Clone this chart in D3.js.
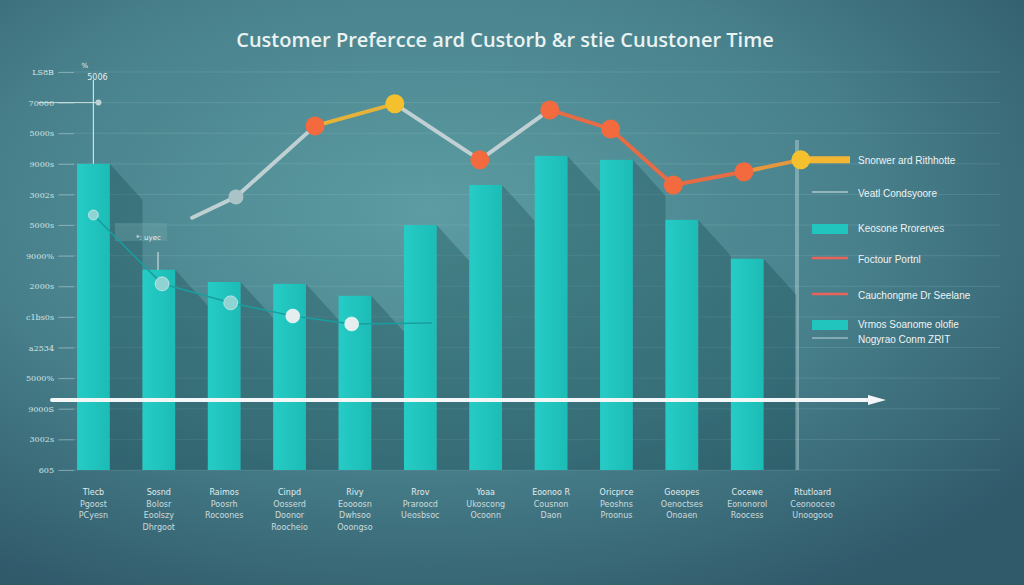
<!DOCTYPE html>
<html><head><meta charset="utf-8">
<script src="https://cdn.jsdelivr.net/npm/d3@7"></script>
<style>html,body{margin:0;padding:0;background:#3a6472;}svg{display:block;}</style>
</head><body>
<svg id="c" width="1024" height="585"></svg>
<script>
// ---- data ----
const categories = ["c1","c2","c3","c4","c5","c6","c7","c8","c9","c10","c11","c12"];
const categoryLabels = [
  ["Tlecb","Pgoost","PCyesn"],
  ["Sosnd","Bolosr","Eoolszy","Dhrgoot"],
  ["Raimos","Poosrh","Rocoones"],
  ["Cinpd","Oosserd","Doonor","Roocheio"],
  ["Rivy","Eoooosn","Dwhsoo","Ooongso"],
  ["Rrov","Praroocd","Ueosbsoc"],
  ["Yoaa","Ukoscong","Ocoonn"],
  ["Eoonoo R","Cousnon","Daon"],
  ["Oricprce","Peoshns","Proonus"],
  ["Goeopes","Oenoctses","Onoaen"],
  ["Cocewe","Eononorol","Roocess"],
  ["Rtutloard","Ceonooceo","Unoogooo"]
];
const barValues = [10.0, 6.54, 6.14, 6.08, 5.69, 8.0, 9.31, 10.26, 10.13, 8.17, 6.9, null];
// orange preference line: position (category index, fractional) and value
const prefPos    = [1.51, 2.18, 3.39, 4.61, 5.91, 6.98, 7.91, 8.87, 9.95, 10.82];
const prefValues = [8.24, 8.92, 11.24, 11.96, 10.13, 11.76, 11.14, 9.31, 9.74, 10.13];
// thin teal line
const timePos    = [0, 1.05, 2.1, 3.05, 3.95, 5.18];
const timeValues = [8.33, 6.08, 5.46, 5.03, 4.77, 4.8];
const yTickValues = [0,1,2,3,4,5,6,7,8,9,10,11,12,13];
const yTickLabels = ["605","3002s","9000S","5000%","a2534","c1bs0s","2000s","9000%","5000s","3002s","9000s","5000s","70000","LS8B"];
const legendLabels = ["Snorwer ard Rithhotte","Veatl Condsyoore","Keosone Rrorerves","Foctour Portnl","Cauchongme Dr Seelane","Vrmos Soanome olofie","Nogyrao Conm ZRIT"];
const titleText = "Customer Prefercce  ard Custorb &r stie Cuustoner Time";

// ---- styles ----
const prefSegColors = ["#c9d6d8","#c9d6d8","#f2b632","#c9d6d8","#c9d6d8","#f26a3e","#f26a3e","#f26a3e","#f29a38"];
const prefMarkerColors = [null,"#a9c3c6","#f26a3e","#f5c02e","#f26a3e","#f26a3e","#f26a3e","#f26a3e","#f26a3e","#f5c02e"];
const legendKinds = [
  {k:"yline",c:"#f2b632"},{k:"thin",c:"#dfe9ea"},{k:"rect",c:"#22c4be"},
  {k:"line",c:"#e8645a"},{k:"line",c:"#e8645a"},{k:"rect",c:"#22c4be"},{k:"thin",c:"#bfd7da"}
];

const svg = d3.select("#c");
const W = 1024, H = 585;
const defs = svg.append("defs");
const bg = defs.append("radialGradient").attr("id","bg").attr("cx","0.42").attr("cy","0.36").attr("r","0.75");
bg.append("stop").attr("offset","0").attr("stop-color","#5c9ca2");
bg.append("stop").attr("offset","0.55").attr("stop-color","#48818c");
bg.append("stop").attr("offset","1").attr("stop-color","#30596a");
svg.append("rect").attr("width",W).attr("height",H).attr("fill","url(#bg)");

const barGrad = defs.append("linearGradient").attr("id","bar").attr("x1",0).attr("x2",1);
barGrad.append("stop").attr("offset",0).attr("stop-color","#25ccc5");
barGrad.append("stop").attr("offset",1).attr("stop-color","#1dbcb6");

const y = d3.scaleLinear().domain([0,13]).range([470,72]);
const x = d3.scaleBand().domain(categories).range([64, 842]).paddingInner(0.5).paddingOuter(0.2);
const xl = d3.scaleLinear().domain([0,11]).range([x(categories[0])+x.bandwidth()/2, x(categories[11])+x.bandwidth()/2]);

// gridlines
const grid = svg.append("g");
yTickValues.forEach(v=>{
  grid.append("line").attr("x1",60).attr("x2",1000).attr("y1",y(v)).attr("y2",y(v))
    .attr("stroke","rgba(210,235,238,0.13)").attr("stroke-width",1);
});
// y axis
const yAxis = d3.axisLeft(y).tickValues(yTickValues).tickFormat((d,i)=>yTickLabels[i]).tickSize(16).tickPadding(4);
const ga = svg.append("g").attr("transform","translate(74,0)").call(yAxis);
ga.select(".domain").remove();
ga.selectAll(".tick line").attr("stroke","rgba(220,240,240,0.35)");
ga.selectAll(".tick text").attr("fill","#d2e4e6").attr("font-family","DejaVu Serif").attr("font-size",8);

// vertical line at right
svg.append("line").attr("x1",797).attr("x2",797).attr("y1",140).attr("y2",470).attr("stroke","rgba(200,225,228,0.4)").attr("stroke-width",4);

// bar shadows
const bars = barValues.map((v,i)=>({c:categories[i],v})).filter(d=>d.v!=null);
svg.append("g").selectAll("path").data(bars).join("path")
  .attr("d",d=>{const x1=x(d.c)+x.bandwidth(), t=y(d.v), b=y(0), dx=x.step()-x.bandwidth();
    return `M${x1},${t} L${x1+dx},${t+dx*1.1} L${x1+dx},${b} L${x1},${b} Z`;})
  .attr("fill","rgba(10,60,70,0.28)");
// bars
svg.append("g").selectAll("rect").data(bars).join("rect")
  .attr("x",d=>x(d.c)).attr("width",x.bandwidth()).attr("y",d=>y(d.v)).attr("height",d=>y(0)-y(d.v))
  .attr("fill","url(#bar)");

// left annotation
const x0 = xl(0);
svg.append("line").attr("x1",x0).attr("x2",x0).attr("y1",80).attr("y2",y(barValues[0])).attr("stroke","#cfe0e2").attr("stroke-width",1.2);
svg.append("line").attr("x1",38).attr("x2",x0+6).attr("y1",y(12)).attr("y2",y(12)).attr("stroke","#cfe0e2").attr("stroke-width",1);
svg.append("circle").attr("cx",x0+5).attr("cy",y(12)).attr("r",3).attr("fill","#bcd2d4");
svg.append("text").attr("x",x0+4).attr("y",80).attr("text-anchor","middle").attr("font-size",8).attr("fill","#e5eeee").attr("font-family","DejaVu Sans").text("5006");
svg.append("text").attr("x",x0-12).attr("y",68).attr("font-size",7).attr("fill","#e5eeee").attr("font-family","DejaVu Sans").text("%");
svg.append("rect").attr("x",115).attr("y",223).attr("width",52).attr("height",18).attr("fill","rgba(120,170,175,0.35)");
svg.append("text").attr("x",136).attr("y",240).attr("font-size",7).attr("fill","#e8f0f0").attr("font-family","DejaVu Sans").text("*: uyec");
svg.append("line").attr("x1",158).attr("x2",158).attr("y1",252).attr("y2",270).attr("stroke","#dfeaea").attr("stroke-width",1);

// time line (thin teal)
const tpts = timePos.map((p,i)=>[xl(p), y(timeValues[i])]);
svg.append("path").attr("d", d3.line()(tpts)).attr("fill","none").attr("stroke","#1a9ea0").attr("stroke-width",1.6);
svg.append("g").selectAll("circle").data(tpts.slice(0,5)).join("circle")
  .attr("cx",d=>d[0]).attr("cy",d=>d[1]).attr("r",(d,i)=>i===0?5:7)
  .attr("fill",(d,i)=>i>=3?"#e4eeee":"#8fd3d2").attr("stroke","rgba(255,255,255,0.5)").attr("stroke-width",1);

// white arrow
svg.append("line").attr("x1",52).attr("x2",872).attr("y1",400).attr("y2",400).attr("stroke","#f4f7f7").attr("stroke-width",4).attr("stroke-linecap","round");
svg.append("path").attr("d","M868,395 L886,400 L868,405 Z").attr("fill","#f4f7f7");

// preference line
const ppts = prefPos.map((p,i)=>[xl(p), y(prefValues[i])]);
for (let i=0;i<ppts.length-1;i++){
  svg.append("line").attr("x1",ppts[i][0]).attr("y1",ppts[i][1]).attr("x2",ppts[i+1][0]).attr("y2",ppts[i+1][1])
    .attr("stroke",prefSegColors[i]).attr("stroke-width",4).attr("stroke-linecap","round").attr("opacity",0.92);
}
const lastP = ppts[ppts.length-1];
svg.append("line").attr("x1",lastP[0]).attr("x2",850).attr("y1",lastP[1]).attr("y2",lastP[1]).attr("stroke","#f2b632").attr("stroke-width",7);
svg.append("g").selectAll("circle").data(ppts.map((p,i)=>({p,c:prefMarkerColors[i]})).filter(d=>d.c)).join("circle")
  .attr("cx",d=>d.p[0]).attr("cy",d=>d.p[1]).attr("r",d=>d.c==="#a9c3c6"?7.5:9.5).attr("fill",d=>d.c);

// title
svg.append("text").attr("x",505).attr("y",47).attr("text-anchor","middle").attr("font-family","Open Sans, Lato, sans-serif")
  .attr("font-weight",600).attr("font-size",20).attr("fill","#eaf2f2").text(titleText);

// category labels
const cl = svg.append("g");
categories.forEach((c,i)=>{
  const cx = x(c)+x.bandwidth()/2;
  const t = cl.append("text").attr("x",cx).attr("y",495).attr("text-anchor","middle")
    .attr("font-family","DejaVu Sans").attr("font-size",8).attr("fill","#e2ecec");
  categoryLabels[i].forEach((s,j)=>t.append("tspan").attr("x",cx).attr("dy",j===0?0:11.5).attr("opacity",j===0?1:0.85).text(s));
});

// legend
const legY = [161,194,229,260,296,325,340];
const lg = svg.append("g");
legendLabels.forEach((s,i)=>{
  const k = legendKinds[i], yy = legY[i];
  if (k.k==="rect") lg.append("rect").attr("x",812).attr("y",yy-5).attr("width",36).attr("height",10).attr("fill",k.c);
  else if (k.k==="line") lg.append("line").attr("x1",812).attr("x2",848).attr("y1",yy-2).attr("y2",yy-2).attr("stroke",k.c).attr("stroke-width",2.5);
  else if (k.k==="thin") lg.append("line").attr("x1",812).attr("x2",848).attr("y1",yy-2).attr("y2",yy-2).attr("stroke",k.c).attr("stroke-width",1.2);
  lg.append("text").attr("x",858).attr("y",yy+3).attr("font-family","Liberation Sans, Arial, sans-serif").attr("font-size",10).attr("fill","#eef4f4").text(s);
});
</script>
</body></html>
